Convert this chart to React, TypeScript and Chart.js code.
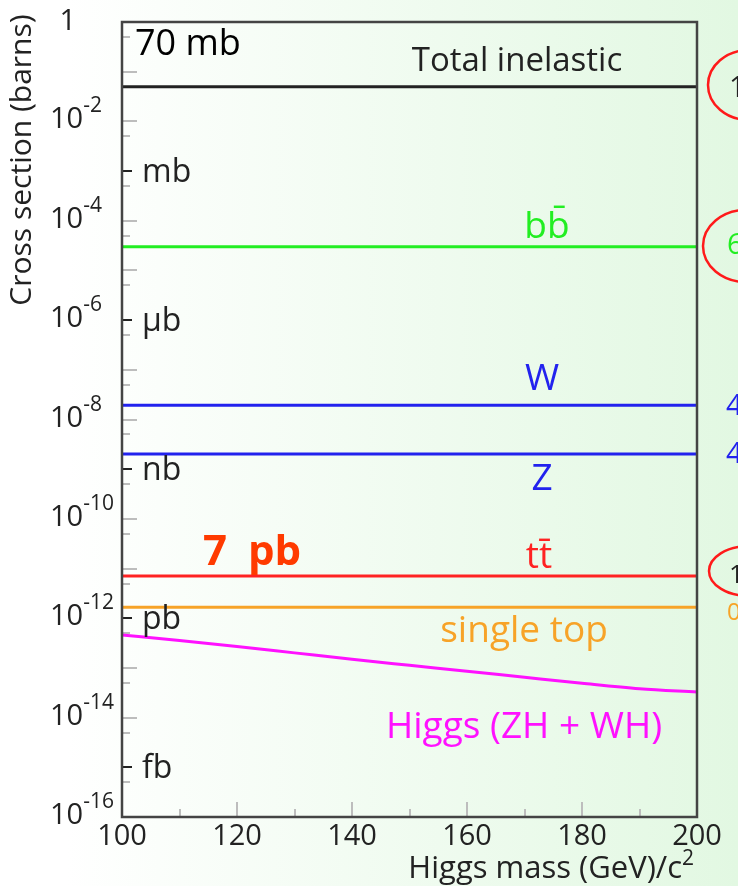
import React, { useEffect, useRef } from 'react';
import { Chart, registerables } from 'chart.js';

Chart.register(...registerables);

// ---- data ----
const massRange = [100, 200];
const xTicks = [100, 120, 140, 160, 180, 200];
const xMinorTicks = [110, 120, 130, 140, 150, 160, 170, 180, 190];
const yExponentsLabeled = [0, -2, -4, -6, -8, -10, -12, -14, -16];
const unitLabels = ['mb', 'μb', 'nb', 'pb', 'fb'];
const unitExponents = [-3, -6, -9, -12, -15];

const totalInelastic = [5.0e-2, 5.0e-2];
const bbbar = [3.0e-5, 3.0e-5];
const wBoson = [1.93e-8, 1.93e-8];
const zBoson = [2.02e-9, 2.02e-9];
const ttbar = [7.1e-12, 7.1e-12];
const singleTop = [1.66e-12, 1.66e-12];

const higgsMass = [100, 110, 120, 130, 140, 150, 160, 170, 180, 190, 200];
const higgsXsec = [4.6e-13, 3.57e-13, 2.71e-13, 2.01e-13, 1.49e-13, 1.13e-13, 8.6e-14, 6.5e-14, 4.93e-14, 3.83e-14, 3.26e-14];

const FONT = "'Open Sans', sans-serif";

const COL = {
  black: '#222222',
  green: '#22ee22',
  blue: '#2222ee',
  red: '#ff2222',
  orange: '#f7a328',
  magenta: '#ff11ff',
  pbRed: '#ff3a00',
};

function pairs(xs: number[], ys: number[]) {
  return xs.map((x, i) => ({ x, y: ys[i] }));
}

function txt(ctx: CanvasRenderingContext2D, s: string, x: number, y: number, font: string, color: string, align: CanvasTextAlign = 'left') {
  ctx.font = font;
  ctx.fillStyle = color;
  ctx.textAlign = align;
  ctx.textBaseline = 'alphabetic';
  ctx.fillText(s, x, y);
}

const overlay = {
  id: 'overlay',
  beforeDraw(chart: any) {
    const { ctx, width, height } = chart;
    ctx.save();
    const g = ctx.createLinearGradient(0, 0, width, 0);
    g.addColorStop(0, '#ffffff');
    g.addColorStop(0.09, '#ffffff');
    g.addColorStop(1, '#e2f8e2');
    ctx.fillStyle = g;
    ctx.fillRect(0, 0, width, height);
    ctx.restore();
  },
  beforeDatasetsDraw(chart: any) {
    const { ctx, chartArea: a, scales } = chart;
    const ys = scales.y;
    const xs = scales.x;
    ctx.save();
    ctx.strokeStyle = '#bdbdbd';
    ctx.lineWidth = 2;
    ctx.beginPath();
    for (let e = -1; e >= -15; e--) {
      if (unitExponents.includes(e)) continue;
      const y = Math.round(ys.getPixelForValue(Math.pow(10, e)));
      ctx.moveTo(a.left, y);
      ctx.lineTo(a.left + 15, y);
    }
    for (let e = 0; e >= -15; e--) {
      const y = Math.round(ys.getPixelForValue(5 * Math.pow(10, e - 1)));
      ctx.moveTo(a.left, y);
      ctx.lineTo(a.left + 8, y);
    }
    xMinorTicks.forEach((v) => {
      const x = Math.round(xs.getPixelForValue(v));
      const len = v % 20 === 0 ? 15 : 8;
      ctx.moveTo(x, a.bottom);
      ctx.lineTo(x, a.bottom - len);
    });
    ctx.stroke();
    ctx.strokeStyle = '#222';
    ctx.beginPath();
    unitExponents.forEach((e) => {
      const y = Math.round(ys.getPixelForValue(Math.pow(10, e)));
      ctx.moveTo(a.left, y);
      ctx.lineTo(a.left + 10, y);
    });
    ctx.stroke();
    ctx.restore();
  },
  afterDatasetsDraw(chart: any) {
    const { ctx, chartArea: a } = chart;
    ctx.save();
    ctx.strokeStyle = '#444444';
    ctx.lineWidth = 2.5;
    ctx.strokeRect(a.left, a.top, a.right - a.left, a.bottom - a.top);
    ctx.restore();
  },
  afterDraw(chart: any) {
    const { ctx, scales } = chart;
    const ys = scales.y;
    const xs = scales.x;
    ctx.save();
    // y tick labels
    yExponentsLabeled.forEach((e) => {
      const y = ys.getPixelForValue(Math.pow(10, e));
      if (e === 0) {
        txt(ctx, '1', 76, y + 8, `29px ${FONT}`, COL.black, 'right');
      } else {
        ctx.font = `29px ${FONT}`;
        const w = ctx.measureText('10').width;
        txt(ctx, '10', 50, y + 7, `29px ${FONT}`, COL.black);
        txt(ctx, '-' + String(-e), 50 + w, y - 9, `21px ${FONT}`, COL.black);
      }
    });
    // unit labels
    unitExponents.forEach((e, i) => {
      const y = ys.getPixelForValue(Math.pow(10, e));
      txt(ctx, unitLabels[i], 142, y + 11, `32px ${FONT}`, COL.black);
    });
    // x tick labels
    xTicks.forEach((v) => {
      const x = xs.getPixelForValue(v);
      txt(ctx, String(v), x, 845, `29px ${FONT}`, COL.black, 'center');
    });
    // x title
    ctx.font = `21px ${FONT}`;
    const sw = ctx.measureText('2').width;
    txt(ctx, 'Higgs mass (GeV)/c', 694 - sw, 878, `31px ${FONT}`, COL.black, 'right');
    txt(ctx, '2', 694 - sw, 865, `21px ${FONT}`, COL.black, 'left');
    // y title
    ctx.save();
    ctx.translate(31, 160);
    ctx.rotate(-Math.PI / 2);
    txt(ctx, 'Cross section (barns)', 0, 0, `30px ${FONT}`, COL.black, 'center');
    ctx.restore();

    // curve labels
    txt(ctx, 'Total inelastic', 517, 71, `33px ${FONT}`, COL.black, 'center');
    txt(ctx, 'b' + 'b\u0304', 547, 238, `37px ${FONT}`, COL.green, 'center');
    txt(ctx, 'W', 542, 390, `37px ${FONT}`, COL.blue, 'center');
    txt(ctx, 'Z', 542, 490, `37px ${FONT}`, COL.blue, 'center');
    txt(ctx, 't' + 't\u0304', 539, 568, `37px ${FONT}`, COL.red, 'center');
    txt(ctx, 'single top', 524, 642, `37px ${FONT}`, COL.orange, 'center');
    txt(ctx, 'Higgs (ZH + WH)', 524, 738, `37px ${FONT}`, COL.magenta, 'center');
    txt(ctx, '70 mb', 135, 55, `36px ${FONT}`, '#000000', 'left');
    (ctx as any).wordSpacing = '10px';
    txt(ctx, '7 pb', 203, 565, `bold 42px ${FONT}`, COL.pbRed, 'left');
    (ctx as any).wordSpacing = '0px';

    // right-side annotations (cut by the page edge)
    ctx.strokeStyle = '#ff1a1a';
    ctx.lineWidth = 2.5;
    [[749, 85, 41, 35], [746, 246, 43, 36], [749, 571, 40, 25]].forEach(([cx, cy, rx, ry]) => {
      ctx.beginPath();
      ctx.ellipse(cx, cy, rx, ry, 0, 0, Math.PI * 2);
      ctx.stroke();
    });
    txt(ctx, '1', 729, 97, `29px ${FONT}`, COL.black);
    txt(ctx, '6', 727, 254, `29px ${FONT}`, COL.green);
    txt(ctx, '4', 726, 415, `29px ${FONT}`, COL.blue);
    txt(ctx, '4', 726, 463, `29px ${FONT}`, COL.blue);
    txt(ctx, '1', 729, 583, `26px ${FONT}`, COL.black);
    txt(ctx, '0', 727, 620, `24px ${FONT}`, COL.orange);
    ctx.restore();
  },
};

export default function App() {
  const ref = useRef<HTMLCanvasElement | null>(null);
  useEffect(() => {
    if (!ref.current) return;
    const line = (data: number[], color: string, w = 3) => ({
      data: pairs(massRange, data),
      borderColor: color,
      borderWidth: w,
      pointRadius: 0,
      fill: false,
    });
    const chart = new Chart(ref.current, {
      type: 'line',
      data: {
        datasets: [
          line(totalInelastic, COL.black, 3),
          line(bbbar, COL.green, 3),
          line(wBoson, COL.blue, 3),
          line(zBoson, COL.blue, 3),
          line(ttbar, COL.red, 3),
          line(singleTop, COL.orange, 3),
          {
            data: pairs(higgsMass, higgsXsec),
            borderColor: COL.magenta,
            borderWidth: 3,
            pointRadius: 0,
            fill: false,
            cubicInterpolationMode: 'monotone',
          },
        ],
      },
      options: {
        animation: false,
        responsive: false,
        devicePixelRatio: 1,
        layout: { padding: { left: 122, top: 22, right: 41, bottom: 69 } },
        plugins: { legend: { display: false }, tooltip: { enabled: false }, title: { display: false } },
        scales: {
          x: { type: 'linear', min: 100, max: 200, display: false },
          y: { type: 'logarithmic', min: 1e-16, max: 1, display: false },
        },
      } as any,
      plugins: [overlay as any],
    });
    return () => chart.destroy();
  }, []);
  return (
    <div style={{ position: 'absolute', left: 0, top: 0, width: 738, height: 886, overflow: 'hidden' }}>
      <canvas ref={ref} width={738} height={886} style={{ display: 'block', width: 738, height: 886 }} />
    </div>
  );
}
